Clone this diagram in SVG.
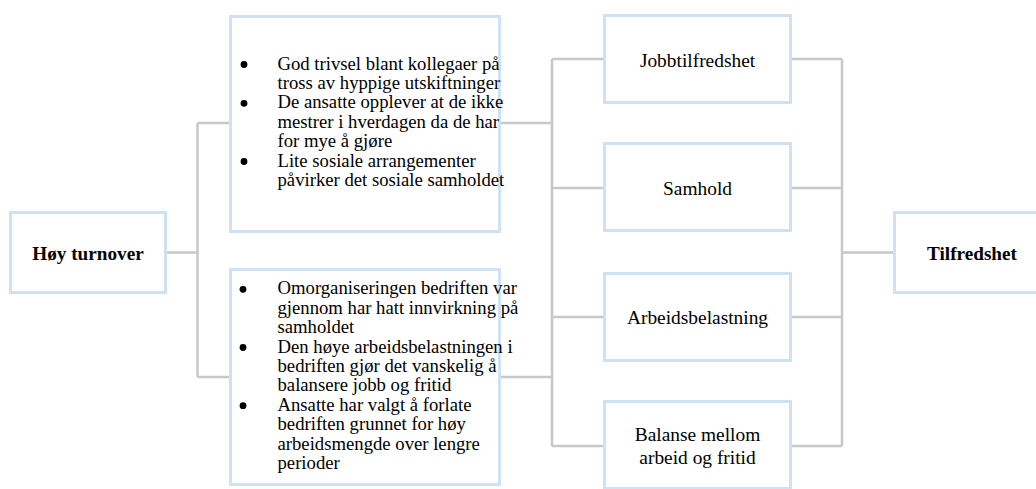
<svg xmlns="http://www.w3.org/2000/svg" width="1036" height="489" viewBox="0 0 1036 489">
  <style>
    .box { fill: #ffffff; stroke: #cfe2f3; stroke-width: 3; }
    .link { fill: none; stroke: #c8c8c8; stroke-width: 2.5; }
    .title { font-family: "Liberation Serif", "Times New Roman", serif; font-size: 19.2px; font-weight: bold; fill: #000; text-anchor: middle; }
    .label { font-family: "Liberation Serif", "Times New Roman", serif; font-size: 19.4px; fill: #000; text-anchor: middle; }
    .item { font-family: "Liberation Serif", "Times New Roman", serif; font-size: 18.7px; fill: #000; }
    .bullet { fill: #000; }
  </style>
  <rect width="1036" height="489" fill="#ffffff"/>

  <!-- connectors -->
  <g id="connectors">
    <path class="link" d="M167 252.5 H197.5 M197.5 123 V377 M197.5 123 H229 M197.5 377 H229"/>
    <path class="link" d="M501 123 H552 M501 377 H552 M552 59 V446 M552 59 H603 M552 188 H603 M552 317 H603 M552 446 H603"/>
    <path class="link" d="M792 59 H842 M792 188 H842 M792 317 H842 M792 446 H842 M842 59 V446 M842 252.5 H893"/>
  </g>

  <!-- source -->
  <g id="node-hoy-turnover">
    <rect class="box" x="10.5" y="212.5" width="155" height="80"/>
    <text class="title" x="88" y="259.5">Høy turnover</text>
  </g>

  <!-- findings, first group -->
  <g id="node-funn-1">
    <rect class="box" x="230.5" y="16.5" width="269" height="215"/>
    <circle class="bullet" cx="244" cy="64.5" r="3.4"/>
    <circle class="bullet" cx="244" cy="103.3" r="3.4"/>
    <circle class="bullet" cx="244" cy="161.5" r="3.4"/>
    <text class="item" x="277.5" y="69.5">God trivsel blant kollegaer på</text>
    <text class="item" x="277.5" y="88.9">tross av hyppige utskiftninger</text>
    <text class="item" x="277.5" y="108.3">De ansatte opplever at de ikke</text>
    <text class="item" x="277.5" y="127.7">mestrer i hverdagen da de har</text>
    <text class="item" x="277.5" y="147.1">for mye å gjøre</text>
    <text class="item" x="277.5" y="166.5">Lite sosiale arrangementer</text>
    <text class="item" x="277.5" y="185.9">påvirker det sosiale samholdet</text>
  </g>

  <!-- findings, second group -->
  <g id="node-funn-2">
    <rect class="box" x="230.5" y="269.5" width="269" height="215"/>
    <circle class="bullet" cx="243" cy="289.3" r="3.4"/>
    <circle class="bullet" cx="243" cy="347.5" r="3.4"/>
    <circle class="bullet" cx="243" cy="405.7" r="3.4"/>
    <text class="item" x="277.5" y="294.3">Omorganiseringen bedriften var</text>
    <text class="item" x="277.5" y="313.7">gjennom har hatt innvirkning på</text>
    <text class="item" x="277.5" y="333.1">samholdet</text>
    <text class="item" x="277.5" y="352.5">Den høye arbeidsbelastningen i</text>
    <text class="item" x="277.5" y="371.9">bedriften gjør det vanskelig å</text>
    <text class="item" x="277.5" y="391.3">balansere jobb og fritid</text>
    <text class="item" x="277.5" y="410.7">Ansatte har valgt å forlate</text>
    <text class="item" x="277.5" y="430.1">bedriften grunnet for høy</text>
    <text class="item" x="277.5" y="449.5">arbeidsmengde over lengre</text>
    <text class="item" x="277.5" y="468.9">perioder</text>
  </g>

  <!-- factors -->
  <g id="node-jobbtilfredshet">
    <rect class="box" x="604.5" y="15.5" width="186" height="87"/>
    <text class="label" x="697.5" y="66.5">Jobbtilfredshet</text>
  </g>
  <g id="node-samhold">
    <rect class="box" x="604.5" y="143.5" width="186" height="87"/>
    <text class="label" x="697.5" y="195">Samhold</text>
  </g>
  <g id="node-arbeidsbelastning">
    <rect class="box" x="604.5" y="273.5" width="186" height="87"/>
    <text class="label" x="697.5" y="324">Arbeidsbelastning</text>
  </g>
  <g id="node-balanse">
    <rect class="box" x="604.5" y="401.5" width="186" height="87"/>
    <text class="label" x="697.5" y="440.7">Balanse mellom</text>
    <text class="label" x="697.5" y="464.3">arbeid og fritid</text>
  </g>

  <!-- outcome -->
  <g id="node-tilfredshet">
    <rect class="box" x="894.5" y="212.5" width="155" height="80"/>
    <text class="title" x="972" y="259.5">Tilfredshet</text>
  </g>
</svg>
